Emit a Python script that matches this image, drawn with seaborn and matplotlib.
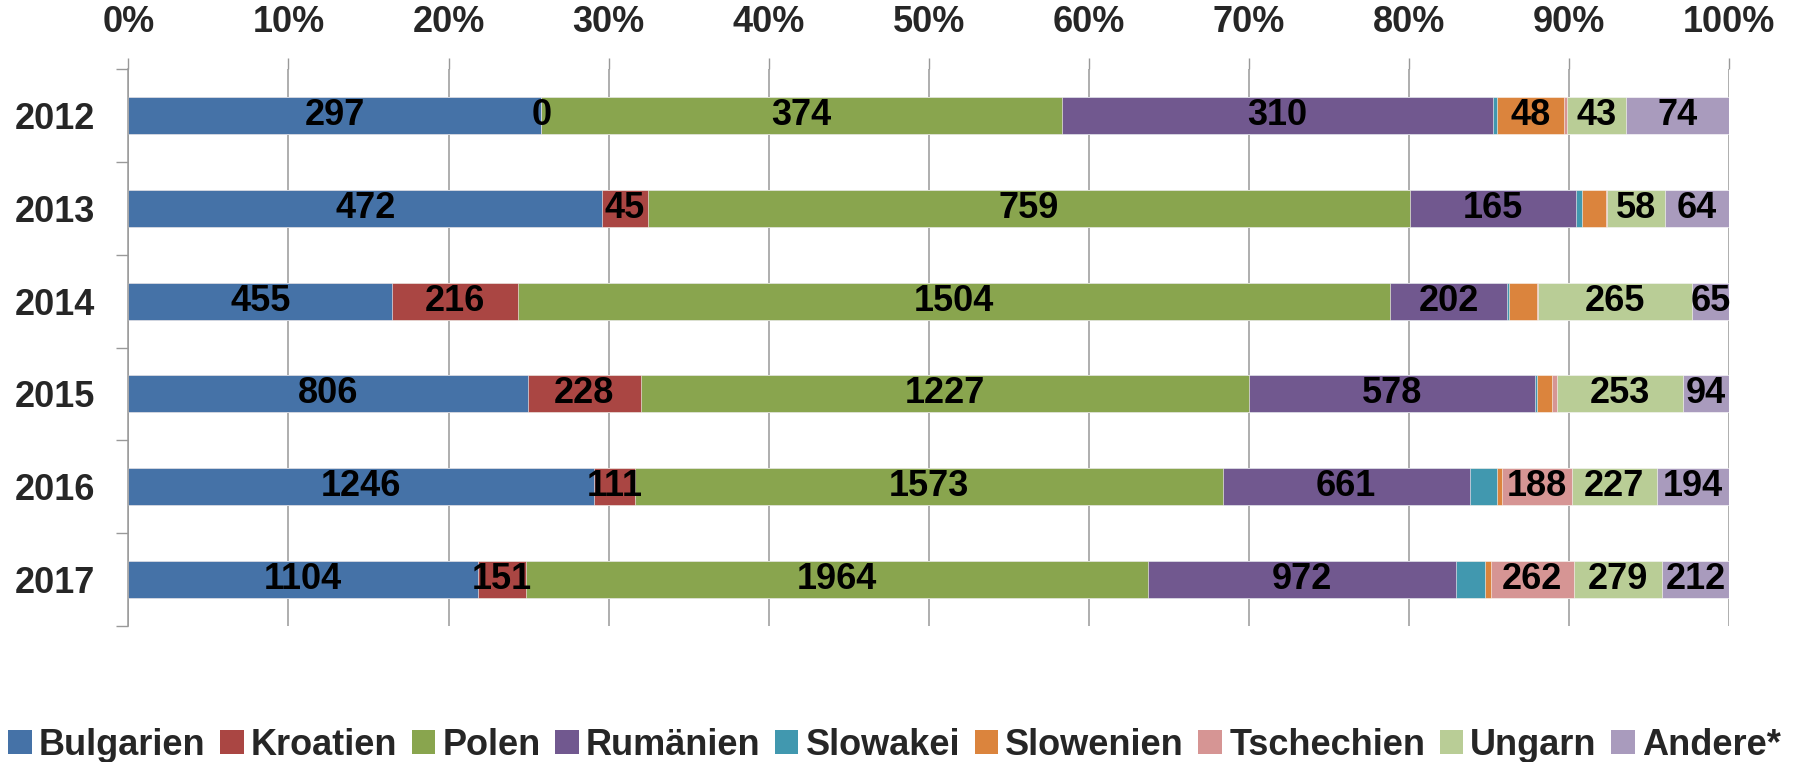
import pandas as pd
import seaborn as sns
import matplotlib.pyplot as plt
import numpy as np
from matplotlib.patches import Patch
from matplotlib.ticker import FixedLocator, PercentFormatter

# Data (counts per year)
years = ["2012", "2013", "2014", "2015", "2016", "2017"]
countries = ["Bulgarien", "Kroatien", "Polen", "Rumänien", "Slowakei",
             "Slowenien", "Tschechien", "Ungarn", "Andere*"]
bulgarien = [297, 472, 455, 806, 1246, 1104]
kroatien = [0, 45, 216, 228, 111, 151]
polen = [374, 759, 1504, 1227, 1573, 1964]
rumaenien = [310, 165, 202, 578, 661, 972]
slowakei = [3, 6, 3, 3, 73, 91]
slowenien = [48, 24, 49, 32, 13, 17]
tschechien = [2, 1, 1, 10, 188, 262]
ungarn = [43, 58, 265, 253, 227, 279]
andere = [74, 64, 65, 94, 194, 212]

colors = ["#4572A7", "#AA4643", "#89A54E", "#71588F", "#4198AF",
          "#DB843D", "#D69594", "#B9CD96", "#A99BBD"]

df = pd.DataFrame(dict(zip(countries, [bulgarien, kroatien, polen, rumaenien, slowakei,
                                        slowenien, tschechien, ungarn, andere])), index=years)
share = df.div(df.sum(axis=1), axis=0) * 100
cum = share.cumsum(axis=1)

sns.set_style("white")
plt.rcParams['font.family'] = ['Liberation Sans', 'DejaVu Sans']
plt.rcParams['font.weight'] = 'bold'

fig = plt.figure(figsize=(18, 7.62), dpi=100)
ax = fig.add_axes([0.0713, 0.1785, 0.8894, 0.7309])

# stacked bars: draw cumulative widths from the right-most series backwards
for i in range(len(countries) - 1, -1, -1):
    d = pd.DataFrame({"year": years, "pct": cum[countries[i]].values})
    sns.barplot(data=d, x="pct", y="year", orient="h", color=colors[i],
                saturation=1, width=0.4, ax=ax, edgecolor="white", linewidth=0.4)

# segment labels
for j, yr in enumerate(years):
    for i, c in enumerate(countries):
        v = df.loc[yr, c]
        s = share.loc[yr, c]
        if s >= 2.0 or v == 0:
            xc = cum.loc[yr, c] - s / 2
            ax.text(xc, j, str(v), ha="center", va="center", fontsize=26,
                    fontweight="bold", color="black")

ax.set_xlim(0, 100)
ax.set_ylim(5.5, -0.5)
ax.set_xlabel("")
ax.set_ylabel("")

ax.xaxis.set_major_locator(FixedLocator(np.arange(0, 101, 10)))
ax.xaxis.set_major_formatter(PercentFormatter(decimals=0))
ax.xaxis.tick_top()
ax.tick_params(axis="x", which="major", top=True, bottom=False, length=8, width=1,
               color="#999999", labelsize=26, pad=13)
ax.grid(axis="x", color="#999999", linewidth=1.1)
ax.set_axisbelow(True)

ax.yaxis.set_minor_locator(FixedLocator(np.arange(-0.5, 6, 1)))
ax.tick_params(axis="y", which="major", length=0, labelsize=26, pad=24)
ax.tick_params(axis="y", which="minor", left=True, length=8.5, width=1, color="#999999")
for lab in ax.get_xticklabels() + ax.get_yticklabels():
    lab.set_fontweight("bold")

for sp in ["top", "right", "bottom"]:
    ax.spines[sp].set_visible(False)
ax.spines["left"].set_color("#999999")
ax.spines["left"].set_linewidth(1.1)

handles = [Patch(facecolor=colors[i], edgecolor="none", label=countries[i])
           for i in range(len(countries))]
fig.legend(handles=handles, loc="center", bbox_to_anchor=(0.497, 0.022), ncol=9,
           frameon=False, handlelength=0.65, handleheight=0.65,
           handletextpad=0.2, columnspacing=0.4, borderpad=0.1,
           prop={"weight": "bold", "size": 26})

fig.savefig("out.png", dpi=100)
